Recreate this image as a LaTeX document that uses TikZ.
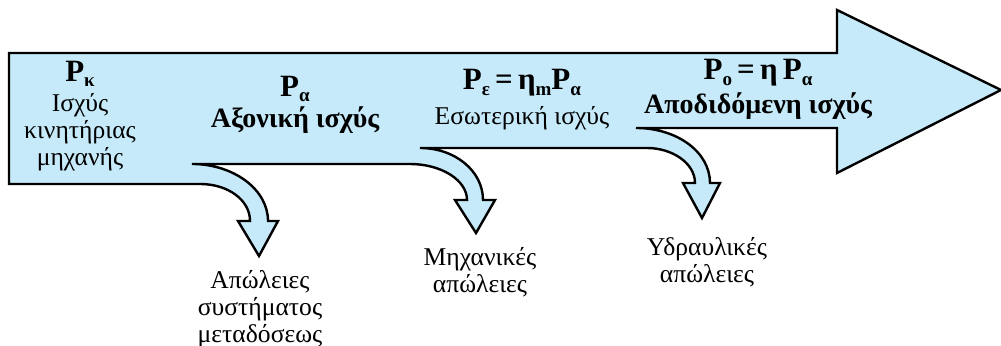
\documentclass[tikz,border=0pt]{standalone}
\usepackage{fontspec}
\setmainfont{Liberation Serif}
\definecolor{flowblue}{RGB}{198,234,249}
\newcommand{\lowidx}[1]{\raisebox{-0.4ex}{\fontsize{9.5}{9.5}\selectfont #1}}
\tikzset{
  flow/.style={fill=flowblue, draw=black, line width=1.2pt},
  lbl/.style={align=center, inner sep=0pt, font=\fontsize{12.8}{13.5}\selectfont},
  boldlbl/.style={lbl, font=\fontsize{14}{14}\selectfont\bfseries},
  powlbl/.style={lbl, font=\fontsize{15.5}{15.5}\selectfont\bfseries}
}

\begin{document}
\begin{tikzpicture}[x=0.5pt, y=-0.5pt]
  \useasboundingbox (0,0) rectangle (1001,346);
  % power flow with its three loss branches
  \draw[flow] (9,53) -- (837,53) -- (837,10) -- (1001,90) -- (837,173) -- (837,128) -- (636,128)
    .. controls (677,128) and (710,152) .. (710,183) -- (720,183) -- (702,218) -- (683,183) -- (695,183)
    .. controls (695,163) and (672,148) .. (647,148) -- (420,148)
    .. controls (455,148) and (483,171) .. (483,200) -- (495,200) -- (476,233) -- (455,200) -- (467,200)
    .. controls (467,180) and (441,164) .. (410,164) -- (192,164)
    .. controls (233,164) and (268,189) .. (268,221) -- (278,221) -- (259,256) -- (238,221) -- (250,221)
    .. controls (250,200) and (228,184) .. (200,184) -- (9,184) -- cycle;

  % powers along the flow
  \node[powlbl] (pk) at (80,74) {P\lowidx{κ}};
  \node[lbl] (pkname) at (80,132) {Ισχύς\\κινητήριας\\μηχανής};
  \node[powlbl] (pa) at (295,89) {P\lowidx{α}};
  \node[boldlbl] (paname) at (295,120) {Αξονική ισχύς};
  \node[powlbl] (pe) at (522,83) {P\lowidx{ε}\,=\,η\lowidx{m}P\lowidx{α}};
  \node[lbl] (pename) at (522,118) {Εσωτερική ισχύς};
  \node[powlbl] (po) at (758,73) {P\lowidx{ο}\,=\,η\,P\lowidx{α}};
  \node[boldlbl] (poname) at (758,106) {Αποδιδόμενη ισχύς};

  % losses
  \node[lbl] (loss1) at (260,309) {Απώλειες\\συστήματος\\μεταδόσεως};
  \node[lbl] (loss2) at (480,272) {Μηχανικές\\απώλειες};
  \node[lbl] (loss3) at (707,262) {Υδραυλικές\\απώλειες};
\end{tikzpicture}
\end{document}
